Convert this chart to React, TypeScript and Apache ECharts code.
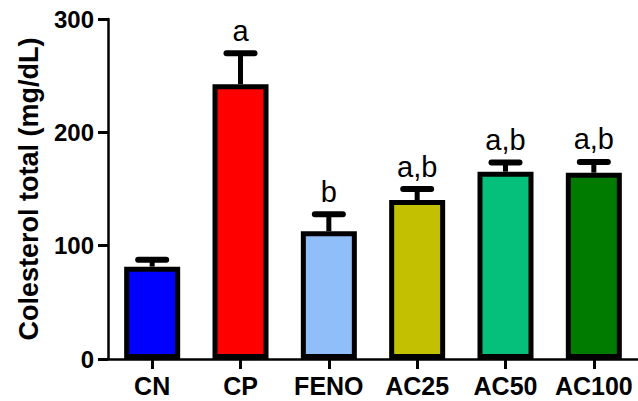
import React, { useEffect, useRef } from "react";
import * as echarts from "echarts";

const categories = ["CN", "CP", "FENO", "AC25", "AC50", "AC100"];
const means = [81.5, 242.5, 112.7, 140.3, 165.3, 164.4];
const sems = [6.0, 27.3, 15.1, 9.6, 8.0, 9.5];
const letters = ["", "a", "b", "a,b", "a,b", "a,b"];
const barColors = ["#0000FF", "#FF0000", "#90BEF8", "#C2C000", "#05C07A", "#007B00"];
const yTicks = { min: 0, max: 300, interval: 100 };
const yTitle = "Colesterol total (mg/dL)";

const FONT = "'Liberation Sans', Arial, sans-serif";

export default function App() {
  const ref = useRef<HTMLDivElement>(null);
  useEffect(() => {
    if (!ref.current) return;
    const chart = echarts.init(ref.current, null, { renderer: "svg" });
    const option: any = {
      animation: false,
      backgroundColor: "#ffffff",
      grid: { left: 108, right: 0, top: 19, bottom: 42, outerBoundsMode: "none" },
      xAxis: {
        type: "category",
        data: categories,
        boundaryGap: true,
        axisLine: { show: true, lineStyle: { color: "#000", width: 2.5 } },
        axisTick: { show: true, alignWithLabel: true, length: 10, lineStyle: { color: "#000", width: 3 } },
        axisLabel: {
          show: true,
          margin: 14,
          color: "#000",
          fontFamily: FONT,
          fontWeight: "bold",
          fontSize: 25,
          interval: 0,
        },
        splitLine: { show: false },
      },
      yAxis: {
        type: "value",
        min: yTicks.min,
        max: yTicks.max,
        interval: yTicks.interval,
        name: yTitle,
        nameLocation: "middle",
        nameGap: 66,
        nameTextStyle: { color: "#000", fontFamily: FONT, fontWeight: "bold", fontSize: 27 },
        axisLine: { show: true, lineStyle: { color: "#000", width: 2.5 } },
        axisTick: { show: true, length: 10, lineStyle: { color: "#000", width: 3 } },
        axisLabel: { show: true, margin: 14, color: "#000", fontFamily: FONT, fontWeight: "bold", fontSize: 24 },
        splitLine: { show: false },
      },
      series: [
        {
          type: "bar",
          data: means.map((v, i) => ({ value: v, itemStyle: { color: barColors[i] } })),
          barWidth: 56,
          itemStyle: { borderColor: "#000", borderWidth: 5 },
          z: 2,
        },
        {
          type: "custom",
          z: 3,
          data: means.map((m, i) => [i, m, m + sems[i]]),
          renderItem: (params: any, api: any) => {
            const idx = api.value(0);
            const m = api.value(1);
            const t = api.value(2);
            const p0 = api.coord([idx, m]);
            const p1 = api.coord([idx, t]);
            const label = letters[params.dataIndex];
            const children: any[] = [
              {
                type: "line",
                shape: { x1: p0[0], y1: p0[1], x2: p1[0], y2: p1[1] },
                style: { stroke: "#000", lineWidth: 5 },
              },
              {
                type: "line",
                shape: { x1: p1[0] - 14, y1: p1[1], x2: p1[0] + 14, y2: p1[1] },
                style: { stroke: "#000", lineWidth: 6, lineCap: "round" },
              },
            ];
            if (label) {
              children.push({
                type: "text",
                x: p1[0],
                y: p1[1] - 8,
                style: {
                  text: label,
                  align: "center",
                  verticalAlign: "bottom",
                  fill: "#000",
                  font: `normal 29px ${FONT}`,
                },
              });
            }
            return { type: "group", children };
          },
        },
      ],
    };
    chart.setOption(option);
    return () => chart.dispose();
  }, []);
  return (
    <div
      ref={ref}
      style={{ position: "fixed", left: 0, top: 0, width: 638, height: 401, background: "#fff" }}
    />
  );
}
